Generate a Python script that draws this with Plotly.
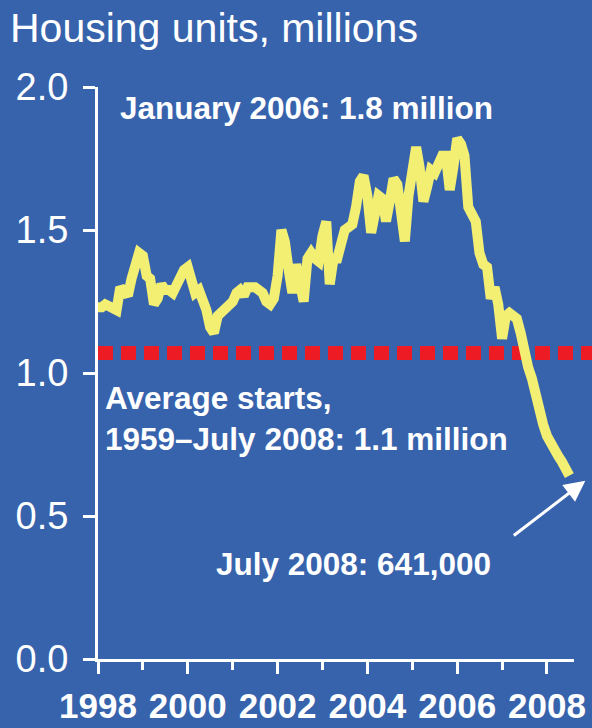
import pandas as pd
import plotly.graph_objects as go

# Monthly housing starts, seasonally adjusted annual rate (millions of units)
starts_1998 = [1.23, 1.23, 1.24, 1.23, 1.22, 1.22, 1.30, 1.29, 1.27, 1.33, 1.38, 1.42]
starts_1999 = [1.41, 1.34, 1.33, 1.24, 1.26, 1.31, 1.29, 1.29, 1.28, 1.31, 1.34, 1.36]
starts_2000 = [1.37, 1.33, 1.28, 1.29, 1.26, 1.22, 1.16, 1.14, 1.20, 1.21, 1.22, 1.23]
starts_2001 = [1.25, 1.28, 1.29, 1.27, 1.30, 1.30, 1.30, 1.29, 1.28, 1.25, 1.24, 1.26]
starts_2002 = [1.34, 1.50, 1.46, 1.36, 1.28, 1.38, 1.33, 1.25, 1.40, 1.42, 1.40, 1.39]
starts_2003 = [1.48, 1.53, 1.31, 1.40, 1.40, 1.45, 1.50, 1.51, 1.52, 1.58, 1.67, 1.69]
starts_2004 = [1.62, 1.49, 1.56, 1.62, 1.61, 1.53, 1.60, 1.68, 1.66, 1.55, 1.46, 1.62]
starts_2005 = [1.72, 1.79, 1.72, 1.60, 1.65, 1.71, 1.70, 1.74, 1.76, 1.76, 1.64, 1.72]
starts_2006 = [1.82, 1.80, 1.76, 1.58, 1.55, 1.53, 1.42, 1.38, 1.37, 1.26, 1.30, 1.24]
starts_2007 = [1.12, 1.20, 1.21, 1.20, 1.19, 1.14, 1.07, 1.02, 0.98, 0.92, 0.87, 0.82]
starts_2008 = [0.78, 0.75, 0.73, 0.71, 0.69, 0.67, 0.641]

# Long-run average of starts, 1959 through July 2008 (millions)
avg_starts = 1.07

year_tick_labels = ["1998", "2000", "2002", "2004", "2006", "2008"]

starts = (starts_1998 + starts_1999 + starts_2000 + starts_2001 + starts_2002
          + starts_2003 + starts_2004 + starts_2005 + starts_2006 + starts_2007
          + starts_2008)
months = pd.date_range("1998-01-01", periods=len(starts), freq="MS")

peak_val = max(starts)
peak_month = months[starts.index(peak_val)]
last_val = starts[-1]
last_month = months[-1]

BG = "#3763AD"
WHITE = "#FFFFFF"
YELLOW = "#F3EF73"
RED = "#ED1C24"
FONT = "Liberation Sans, Arial, sans-serif"

# Plot-area geometry in pixels
L, R, T, B = 98, 574, 87, 659
W, H = 592, 728

fig = go.Figure()

fig.add_trace(go.Scatter(
    x=months, y=starts, mode="lines",
    line=dict(color=YELLOW, width=10),
    hoverinfo="skip", showlegend=False,
))

# Dotted line for the long-run average, running to the right edge
fig.add_shape(
    type="line", xref="paper", yref="y",
    x0=0, x1=(W - L) / (R - L), y0=avg_starts, y1=avg_starts,
    line=dict(color=RED, width=14, dash="15px,8px"),
    layer="below",
)

ann_font = dict(family=FONT, size=31.5, color=WHITE)


def px_x(px):
    return (px - L) / (R - L)


def px_y(py):
    return (B - py) / (B - T)


fig.add_annotation(
    xref="paper", yref="paper", x=px_x(118), y=px_y(108),
    xanchor="left", yanchor="middle", showarrow=False,
    text=f"<b>{peak_month.strftime('%B %Y')}: {peak_val:.1f} million</b>",
    font=ann_font,
)
fig.add_annotation(
    xref="paper", yref="paper", x=px_x(103), y=px_y(418),
    xanchor="left", yanchor="middle", showarrow=False, align="left",
    text=(f"<b>Average starts,</b><br>"
          f"<b>1959\u2013{last_month.strftime('%B %Y')}: {avg_starts:.1f} million</b>"),
    font=ann_font,
)
fig.add_annotation(
    xref="paper", yref="paper", x=px_x(214), y=px_y(564),
    xanchor="left", yanchor="middle", showarrow=False,
    text=f"<b>{last_month.strftime('%B %Y')}: {round(last_val * 1e6):,}</b>",
    font=ann_font,
)
# Arrow pointing at the latest reading
fig.add_annotation(
    x=last_month, y=last_val, xref="x", yref="y",
    text="", showarrow=True, xshift=16, yshift=-5,
    axref="pixel", ayref="pixel", ax=-73, ay=56,
    arrowhead=2, arrowsize=1.4, arrowwidth=3, arrowcolor=WHITE, standoff=0,
)

fig.update_layout(
    width=W, height=H,
    margin=dict(l=L, r=W - R, t=T, b=H - B, autoexpand=False),
    paper_bgcolor=BG, plot_bgcolor=BG,
    title=dict(
        text="Housing units, millions",
        font=dict(family=FONT, size=41, color=WHITE),
        x=10 / W, xanchor="left", xref="container",
        y=1 - 28 / H, yanchor="middle", yref="container",
        automargin=False,
    ),
    showlegend=False,
)

fig.update_xaxes(
    type="date",
    range=["1998-01-01", "2008-08-08"],
    tickvals=[pd.Timestamp(f"{y}-01-01") for y in year_tick_labels],
    ticktext=year_tick_labels,
    ticks="outside", ticklen=12, tickwidth=3, tickcolor=WHITE,
    minor=dict(dtick="M12", tick0="1998-01-01", ticks="outside",
               ticklen=8, tickwidth=3, tickcolor=WHITE),
    showline=True, linewidth=3, linecolor=WHITE,
    showgrid=False, zeroline=False, automargin=False,
    tickfont=dict(family=FONT, size=35, color=WHITE, weight="bold"),
    ticklabelstandoff=2,
)
fig.update_yaxes(
    range=[0, 2], dtick=0.5, tickformat=".1f",
    ticks="outside", ticklen=12, tickwidth=3, tickcolor=WHITE,
    showline=True, linewidth=3, linecolor=WHITE,
    showgrid=False, zeroline=False, automargin=False,
    tickfont=dict(family=FONT, size=38, color=WHITE),
    ticklabelstandoff=7,
)

fig.write_html("out.html")
